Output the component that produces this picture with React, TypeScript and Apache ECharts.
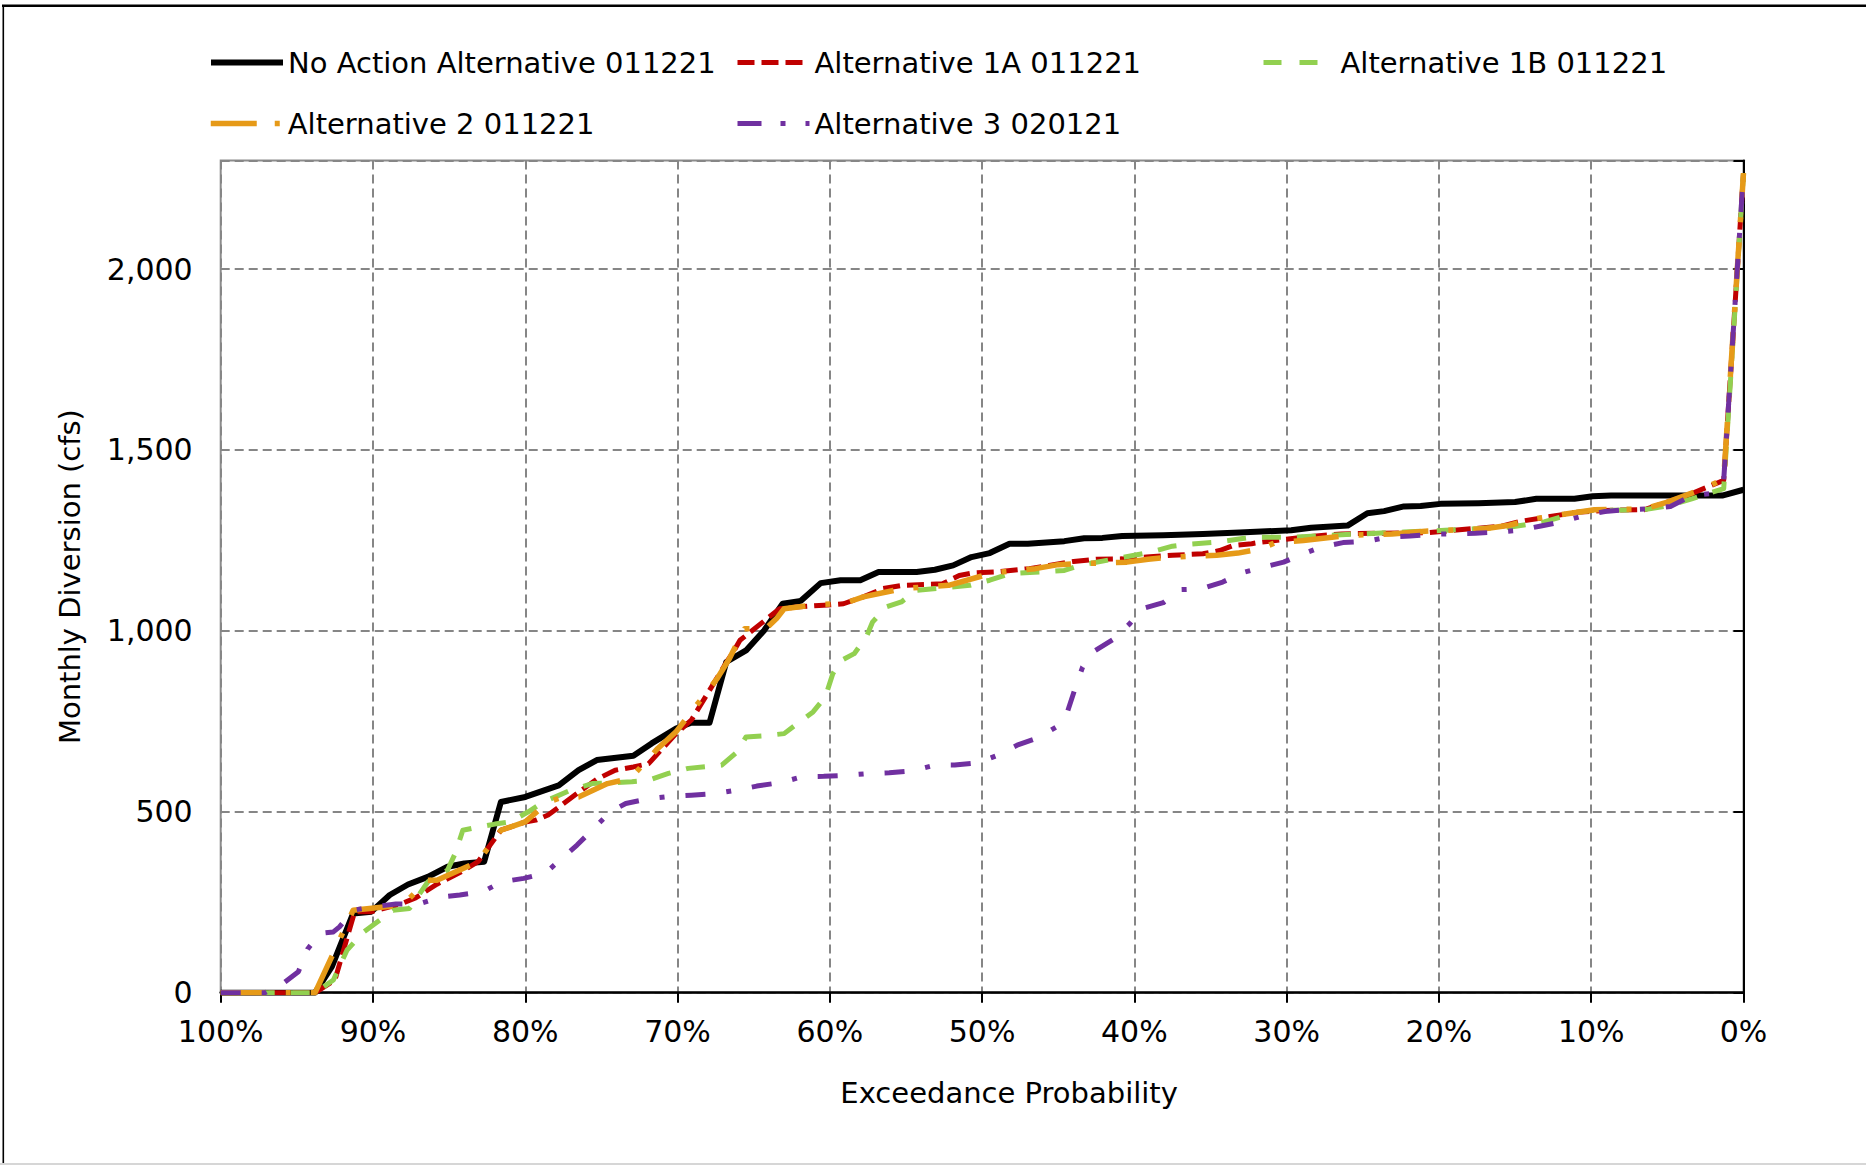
import React, { useEffect, useRef } from 'react';
import * as echarts from 'echarts';

// ---- Data (exceedance probability %, monthly diversion cfs) ----
const seriesNames = [
  'No Action Alternative 011221',
  'Alternative 1A 011221',
  'Alternative 1B 011221',
  'Alternative 2 011221',
  'Alternative 3 020121',
];

const noAction: number[][] = [
  [100, 0], [93.8, 0], [92.7, 72], [91.3, 219], [90.1, 224], [88.9, 270], [87.7, 299], [86.4, 320],
  [85.1, 348], [84.0, 357], [82.7, 362], [81.6, 527], [80.0, 541], [77.8, 573], [76.5, 615], [75.3, 643],
  [72.9, 655], [71.7, 689], [70.1, 730], [69.1, 746], [67.9, 746], [66.8, 914], [65.5, 946], [64.3, 1002],
  [63.1, 1075], [61.9, 1083], [60.6, 1132], [59.3, 1140], [58.0, 1140], [56.8, 1163], [54.3, 1163],
  [53.1, 1169], [51.9, 1181], [50.7, 1204], [49.5, 1215], [48.2, 1241], [47.0, 1241], [44.6, 1248],
  [43.3, 1256], [42.1, 1257], [40.8, 1262], [38.1, 1264], [35.5, 1268], [33.1, 1272], [29.7, 1278],
  [28.4, 1285], [26.0, 1291], [24.7, 1325], [23.6, 1331], [22.3, 1344], [21.2, 1345], [19.9, 1351],
  [17.4, 1353], [15.0, 1356], [13.6, 1365], [11.1, 1365], [9.9, 1372], [8.7, 1374], [1.4, 1374], [0, 1390],
];

const alt1A: number[][] = [
  [100, 0], [93.8, 0], [92.5, 35], [91.2, 224], [90.1, 224], [88.2, 245], [87.2, 262], [85.8, 300],
  [84.2, 334], [83.1, 362], [81.6, 449], [80.0, 472], [79.3, 477], [78.5, 491], [76.3, 560], [75.3, 590],
  [74.1, 615], [72.9, 624], [71.9, 633], [70.9, 679], [70.1, 716], [69.1, 753], [67.1, 891], [66.7, 919],
  [66.4, 937], [65.9, 974], [63.3, 1061], [62.2, 1066], [60.4, 1071], [59.1, 1075], [57.8, 1094],
  [56.5, 1117], [55.2, 1126], [52.6, 1130], [51.5, 1153], [50.6, 1160], [49.1, 1163], [46.9, 1172],
  [45.6, 1181], [44.0, 1192], [42.5, 1198], [40.8, 1199], [39.2, 1204], [37.5, 1209], [35.5, 1213],
  [34.4, 1222], [33.5, 1236], [32.3, 1241], [31.7, 1245], [28.4, 1261], [26.4, 1268], [24.0, 1270],
  [20.9, 1271], [17.4, 1284], [15.9, 1289], [14.6, 1303], [10.9, 1328], [9.1, 1333], [6.5, 1335],
  [4.8, 1359], [3.2, 1383], [1.3, 1416], [0, 2265],
];

const alt1B: number[][] = [
  [100, 0], [93.8, 0], [92.6, 35], [91.7, 118], [90.6, 168], [89.7, 196], [88.7, 228], [87.6, 233],
  [86.4, 306], [85.1, 339], [84.6, 385], [84.1, 449], [83.3, 456], [82.0, 466], [81.0, 472], [79.8, 500],
  [78.8, 527], [77.0, 560], [75.6, 578], [73.0, 583], [71.9, 587], [70.6, 606], [69.3, 620], [67.1, 629],
  [66.1, 665], [65.5, 707], [64.3, 710], [63.0, 716], [62.0, 748], [61.1, 776], [60.3, 817], [59.8, 882],
  [59.2, 919], [58.4, 937], [57.6, 983], [57.2, 1024], [56.3, 1066], [55.3, 1080], [54.3, 1112],
  [53.0, 1117], [50.8, 1126], [49.5, 1140], [48.2, 1158], [46.0, 1163], [44.6, 1167], [43.6, 1181],
  [40.0, 1209], [38.9, 1218], [37.5, 1234], [36.6, 1239], [34.6, 1245], [32.3, 1259], [29.7, 1259],
  [27.3, 1264], [22.3, 1273], [19.6, 1278], [15.3, 1287], [13.1, 1301], [10.9, 1328], [9.9, 1333],
  [6.5, 1335], [4.8, 1347], [3.4, 1365], [1.3, 1393], [0, 2265],
];

const alt2: number[][] = [
  [100, 0], [93.8, 0], [91.3, 228], [88.2, 242], [87.8, 253], [86.4, 311], [85.8, 311], [83.1, 362],
  [81.6, 449], [80.0, 472], [78.5, 527], [77.8, 537], [76.5, 541], [74.6, 578], [73.1, 592], [71.3, 675],
  [70.1, 721], [67.4, 868], [66.6, 923], [65.6, 1006], [64.2, 1006], [63.5, 1034], [63.0, 1061],
  [60.9, 1073], [59.1, 1075], [57.8, 1094], [55.2, 1117], [52.2, 1126], [49.3, 1160], [46.5, 1172],
  [45.0, 1183], [43.4, 1186], [40.5, 1190], [39.1, 1198], [37.5, 1204], [34.6, 1209], [33.2, 1215],
  [31.7, 1227], [30.8, 1243], [28.9, 1250], [25.9, 1264], [23.1, 1268], [20.7, 1276], [17.0, 1282],
  [15.5, 1291], [13.7, 1310], [10.9, 1328], [9.8, 1335], [6.5, 1337], [5.0, 1356], [2.6, 1393],
  [1.3, 1420], [0, 2265],
];

const alt3: number[][] = [
  [100, 0], [97.1, 0], [95.9, 26], [94.9, 58], [94.3, 120], [93.5, 164], [92.6, 168], [92.2, 182],
  [91.3, 228], [89.7, 239], [88.5, 245], [87.0, 245], [85.5, 265], [84.3, 270], [82.8, 279], [81.5, 307],
  [80.1, 316], [78.7, 330], [77.6, 371], [76.6, 408], [75.5, 454], [74.4, 500], [73.4, 523], [71.9, 536],
  [70.4, 543], [69.1, 546], [67.6, 550], [66.1, 560], [64.8, 571], [63.2, 581], [61.8, 597], [60.4, 598],
  [58.9, 601], [57.4, 606], [56.1, 608], [54.6, 613], [53.1, 629], [51.8, 629], [50.3, 635], [49.0, 656],
  [47.7, 684], [46.3, 705], [45.1, 735], [44.4, 776], [43.9, 840], [43.4, 900], [42.7, 942], [41.4, 976],
  [40.3, 1020], [39.5, 1061], [38.1, 1078], [37.0, 1114], [35.6, 1116], [34.2, 1135], [32.9, 1161],
  [31.9, 1172], [30.2, 1190], [28.9, 1213], [27.7, 1232], [26.3, 1244], [24.7, 1248], [23.4, 1259],
  [21.9, 1262], [20.5, 1267], [17.6, 1270], [16.1, 1273], [14.7, 1278], [13.3, 1290], [12.0, 1301],
  [10.6, 1317], [9.1, 1330], [7.6, 1335], [6.2, 1337], [4.8, 1344], [3.4, 1374], [2.2, 1379],
  [1.3, 1416], [0, 2268],
];

const xAxisTitle = 'Exceedance Probability';
const yAxisTitle = 'Monthly Diversion (cfs)';

const FONT = "'DejaVu Sans', Verdana, sans-serif";

export default function App() {
  const ref = useRef<HTMLDivElement>(null);

  useEffect(() => {
    if (!ref.current) return;
    const chart = echarts.init(ref.current, null, { renderer: 'svg' });

    const seriesData = [noAction, alt1A, alt1B, alt2, alt3];
    const colors = ['#000000', '#C00000', '#92D050', '#E69A18', '#7030A0'];
    const widths = [6, 5, 5, 5.5, 5];
    const types: any[] = ['solid', [17, 7], [19, 16], [45, 20, 5, 20], [20, 21, 5, 21]];
    const legendTypes: any[] = ['solid', [17, 7], [18, 18], [46, 18, 5, 20], [24, 19, 5, 20, 5, 20]];

    const legendPos = [
      { left: 208, top: 48 },
      { left: 735, top: 48 },
      { left: 1261, top: 48 },
      { left: 208, top: 109 },
      { left: 735, top: 109 },
    ];

    chart.setOption({
      animation: false,
      backgroundColor: '#ffffff',
      textStyle: { fontFamily: FONT },
      grid: {
        left: 220.7,
        right: 122.5,
        top: 160.5,
        bottom: 172.3,
        show: true,
        borderColor: '#8c8c8c',
        borderWidth: 2,
        backgroundColor: 'transparent',
      },
      legend: seriesNames.map((n, i) => ({
        data: [n],
        left: legendPos[i].left,
        top: legendPos[i].top,
        padding: 0,
        itemWidth: 72,
        itemHeight: 10,
        selectedMode: false,
        itemStyle: { opacity: 0, borderWidth: 0 },
        lineStyle: { width: widths[i], type: legendTypes[i], color: colors[i], cap: 'butt' },
        textStyle: { fontSize: 29, color: '#000', fontFamily: FONT },
      })),
      xAxis: {
        type: 'value',
        inverse: true,
        min: 0,
        max: 100,
        interval: 10,
        name: xAxisTitle,
        nameLocation: 'middle',
        nameGap: 86,
        nameTextStyle: { fontSize: 29, color: '#000', fontFamily: FONT, padding: [0, 0, 0, 54] },
        axisLine: { show: true, lineStyle: { color: '#000', width: 2.5 } },
        axisTick: { show: true, inside: false, length: 10, lineStyle: { color: '#000', width: 2 } },
        axisLabel: {
          formatter: (v: number) => `${v}%`,
          fontSize: 30,
          color: '#000',
          fontFamily: FONT,
          margin: 24,
        },
        splitLine: { show: true, lineStyle: { color: '#868686', width: 2, type: [9, 5] } },
      },
      yAxis: {
        type: 'value',
        min: 0,
        max: 2300,
        interval: 500,
        name: yAxisTitle,
        nameLocation: 'middle',
        nameRotate: 90,
        nameGap: 136,
        nameTextStyle: { fontSize: 29, color: '#000', fontFamily: FONT },
        axisLine: { show: true, lineStyle: { color: '#000', width: 2 } },
        axisTick: { show: true, inside: false, length: 10, lineStyle: { color: '#000', width: 2 } },
        axisLabel: {
          formatter: (v: number) => (v > 2000 ? '' : v.toLocaleString('en-US')),
          fontSize: 30,
          color: '#000',
          fontFamily: FONT,
          margin: 28,
        },
        splitLine: { show: true, lineStyle: { color: '#868686', width: 2, type: [9, 5] } },
      },
      series: seriesNames.map((n, i) => ({
        name: n,
        type: 'line',
        data: seriesData[i],
        symbol: 'none',
        showSymbol: false,
        clip: true,
        lineStyle: {
          color: colors[i],
          width: widths[i],
          type: types[i],
          cap: 'butt',
          join: 'round',
        },
        itemStyle: { color: colors[i] },
        z: 2 + i,
      })),
      graphic: {
        elements: [
          { type: 'rect', shape: { x: 2, y: 4.5, width: 1864, height: 2.5 }, style: { fill: '#000' }, silent: true },
          { type: 'rect', shape: { x: 2.5, y: 5, width: 1.6, height: 1160 }, style: { fill: '#000' }, silent: true },
          { type: 'rect', shape: { x: 0, y: 1163, width: 1866, height: 2 }, style: { fill: '#d6d6d6' }, silent: true },
        ],
      },
    });

    return () => chart.dispose();
  }, []);

  return (
    <div
      ref={ref}
      style={{ position: 'absolute', left: 0, top: 0, width: 1866, height: 1165, background: '#fff' }}
    />
  );
}
